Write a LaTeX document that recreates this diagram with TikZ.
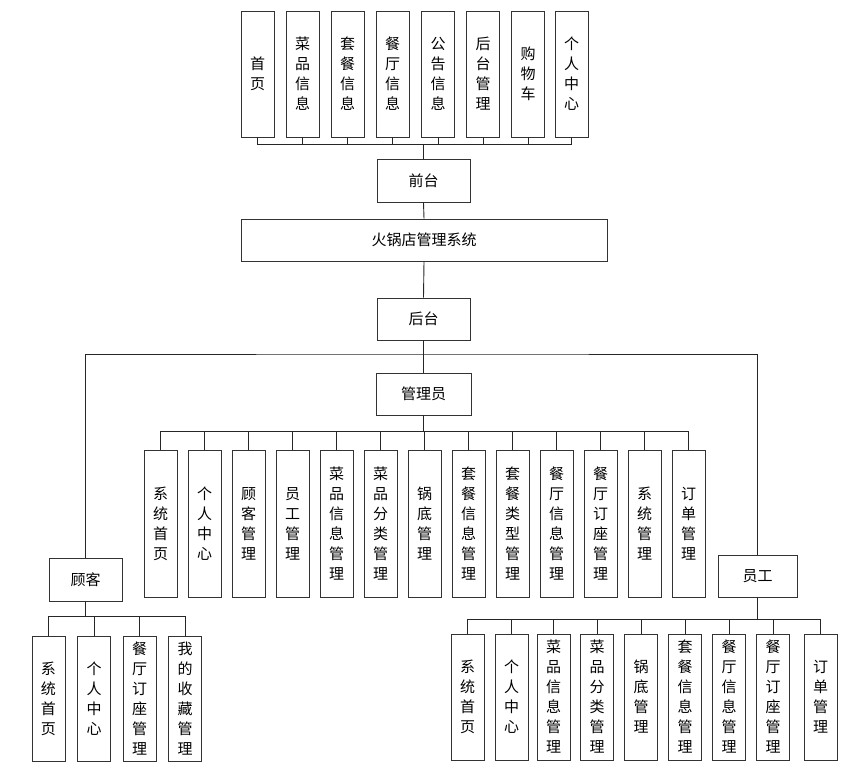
\documentclass[tikz,border=0pt]{standalone}
\usepackage{fontspec}
\setmainfont{Noto Sans CJK SC}
\begin{document}
\begin{tikzpicture}[x=1pt,y=-1pt,
  box/.style={draw=black!80, line width=0.9pt, inner sep=0pt, align=center, font=\fontsize{15}{20}\selectfont},
  vbox/.style={box, minimum width=33pt},
  ln/.style={draw=black!85, line width=0.9pt}]
\useasboundingbox (0,0) rectangle (863,773);
% top row
\node[vbox, minimum height=126pt] (t1) at (257.5,74) {首\\页};
\node[vbox, minimum height=126pt] (t2) at (302.5,74) {菜\\品\\信\\息};
\node[vbox, minimum height=126pt] (t3) at (347.5,74) {套\\餐\\信\\息};
\node[vbox, minimum height=126pt] (t4) at (392.5,74) {餐\\厅\\信\\息};
\node[vbox, minimum height=126pt] (t5) at (438,74) {公\\告\\信\\息};
\node[vbox, minimum height=126pt] (t6) at (483,74) {后\\台\\管\\理};
\node[vbox, minimum height=126pt] (t7) at (528,74) {购\\物\\车};
\node[vbox, minimum height=126pt] (t8) at (571.5,74) {个\\人\\中\\心};
\node[box, minimum width=93pt, minimum height=43pt] (qt) at (423.5,180.5) {前台};
\node[box, minimum width=366pt, minimum height=42pt] (sys) at (424,240) {火锅店管理系统};
\node[box, minimum width=93pt, minimum height=42pt] (ht) at (423.5,319) {后台};
\node[box, minimum width=95pt, minimum height=42pt] (adm) at (423.5,394) {管理员};
\node[box, minimum width=73pt, minimum height=43pt] (gk) at (85.5,579.5) {顾客};
\node[box, minimum width=79pt, minimum height=42pt] (yg) at (757.5,576) {员工};
% admin children
\foreach \i/\t in {0/{系\\统\\首\\页},1/{个\\人\\中\\心},2/{顾\\客\\管\\理},3/{员\\工\\管\\理},4/{菜\\品\\信\\息\\管\\理},5/{菜\\品\\分\\类\\管\\理},6/{锅\\底\\管\\理},7/{套\\餐\\信\\息\\管\\理},8/{套\\餐\\类\\型\\管\\理},9/{餐\\厅\\信\\息\\管\\理},10/{餐\\厅\\订\\座\\管\\理},11/{系\\统\\管\\理},12/{订\\单\\管\\理}}
  \node[vbox, minimum height=147pt] (a\i) at (160.5+44*\i,523.5) {\t};
% customer children
\node[vbox, minimum height=125pt] (c1) at (48.5,698.5) {系\\统\\首\\页};
\node[vbox, minimum height=125pt] (c2) at (94,698.5) {个\\人\\中\\心};
\node[vbox, minimum height=125pt] (c3) at (139.5,698.5) {餐\\厅\\订\\座\\管\\理};
\node[vbox, minimum height=125pt] (c4) at (185,698.5) {我\\的\\收\\藏\\管\\理};
% staff children
\node[vbox, minimum height=126pt] (s1) at (467.5,697) {系\\统\\首\\页};
\node[vbox, minimum height=126pt] (s2) at (511.5,697) {个\\人\\中\\心};
\node[vbox, minimum height=126pt] (s3) at (553.5,697) {菜\\品\\信\\息\\管\\理};
\node[vbox, minimum height=126pt] (s4) at (597,697) {菜\\品\\分\\类\\管\\理};
\node[vbox, minimum height=126pt] (s5) at (641,697) {锅\\底\\管\\理};
\node[vbox, minimum height=126pt] (s6) at (685,697) {套\\餐\\信\\息\\管\\理};
\node[vbox, minimum height=126pt] (s7) at (729,697) {餐\\厅\\信\\息\\管\\理};
\node[vbox, minimum height=126pt] (s8) at (773,697) {餐\\厅\\订\\座\\管\\理};
\node[vbox, minimum height=126pt] (s9) at (820.5,697) {订\\单\\管\\理};
% bus coordinates
\coordinate (topbus) at (423.5,144);
\coordinate (split) at (423.5,354);
\coordinate (admbus) at (423.5,431);
\coordinate (gkbus) at (85.5,616);
\coordinate (ygbus) at (757.5,619);
% connectors
\foreach \n in {t1,t2,t3,t4,t5,t6,t7,t8} \draw[ln] (\n.south) |- (topbus);
\draw[ln] (topbus) -- (qt.north);
\draw[ln] (qt.south) -- (sys.north);
\draw[ln] (sys.south) -- (ht.north);
\draw[ln] (ht.south) -- (adm.north);
\draw[ln] (gk.north) |- (split) -| (yg.north);
\draw[ln] (adm.south) -- (admbus);
\foreach \i in {0,...,12} \draw[ln] (a\i.north) |- (admbus);
\draw[ln] (gk.south) -- (gkbus);
\foreach \n in {c1,c2,c3,c4} \draw[ln] (\n.north) |- (gkbus);
\draw[ln] (yg.south) -- (ygbus);
\foreach \n in {s1,s2,s3,s4,s5,s6,s7,s8,s9} \draw[ln] (\n.north) |- (ygbus);
\end{tikzpicture}
\end{document}
